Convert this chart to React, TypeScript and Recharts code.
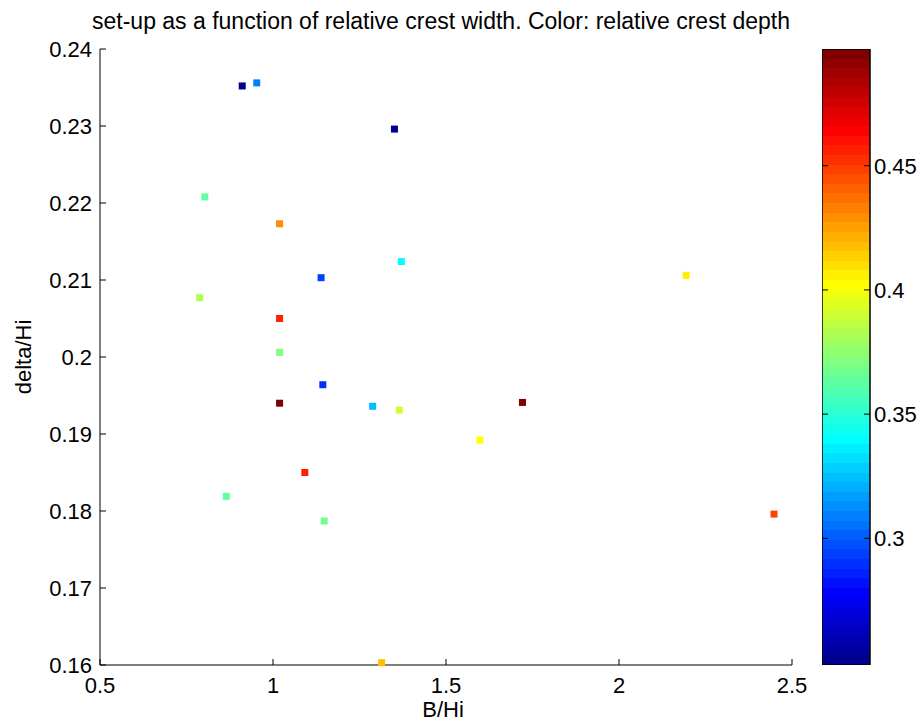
import { Bar, BarChart, Scatter, ScatterChart, XAxis, YAxis } from 'recharts'

// relative crest width B/Hi
const bOverHi = [
    0.911, 0.953, 1.351, 0.803, 1.019, 1.371, 1.139, 2.194, 0.788, 1.019, 1.019,
    1.144, 1.019, 1.288, 1.365, 1.598, 1.721, 1.092, 0.865, 1.148, 2.448, 1.314,
]
// set-up delta/Hi
const deltaOverHi = [
    0.2352, 0.2356, 0.2296, 0.2208, 0.2173, 0.2124, 0.2103, 0.2106, 0.2077, 0.205, 0.2006,
    0.1964, 0.194, 0.1936, 0.1931, 0.1892, 0.1941, 0.185, 0.1819, 0.1787, 0.1796, 0.1603,
]
// relative crest depth (colour)
const crestDepth = [
    0.252, 0.309, 0.249, 0.362, 0.429, 0.34, 0.294, 0.405, 0.383, 0.456, 0.371,
    0.288, 0.497, 0.323, 0.391, 0.401, 0.494, 0.456, 0.363, 0.367, 0.448, 0.417,
]

const xTicks = [0.5, 1, 1.5, 2, 2.5]
const yTicks = [0.16, 0.17, 0.18, 0.19, 0.2, 0.21, 0.22, 0.23, 0.24]
const cbTicks = [0.3, 0.35, 0.4, 0.45]

const FONT = '"Liberation Sans", Arial, sans-serif'
const cMin = Math.min(...crestDepth)
const cMax = Math.max(...crestDepth)

// MATLAB jet(64)
function jet(k: number) {
    const u = (j: number) => (j < 1 || j > 47 ? 0 : j <= 16 ? j / 16 : j <= 31 ? 1 : (48 - j) / 16)
    const c = (v: number) => Math.round(v * 255)
    return `rgb(${c(u(k - 24))},${c(u(k - 8))},${c(u(k + 8))})`
}

function depthColor(v: number) {
    const k = Math.min(64, Math.floor(((v - cMin) / (cMax - cMin)) * 64) + 1)
    return jet(k)
}

const data = bOverHi.map((b, i) => ({ b, delta: deltaOverHi[i], depth: crestDepth[i] }))
const cbData = [{ name: 'depth', range: [cMin, cMax] }]

function YTick({ x, y, payload }: any) {
    return (
        <g>
            <line x1={x} x2={x + 6} y1={y} y2={y} stroke="#000" />
            <text x={x - 8} y={y} dy="0.36em" textAnchor="end" fontSize={22} fontFamily={FONT} fill="#000">
                {String(payload.value)}
            </text>
        </g>
    )
}

function XTick({ x, y, payload }: any) {
    return (
        <g>
            <line x1={x} x2={x} y1={y} y2={y - 6} stroke="#000" />
            <text x={x} y={y + 28} textAnchor="middle" fontSize={22} fontFamily={FONT} fill="#000">
                {String(payload.value)}
            </text>
        </g>
    )
}

function CbTick({ x, y, payload }: any) {
    return (
        <g>
            <line x1={x - 6} x2={x} y1={y} y2={y} stroke="#000" />
            <line x1={x - 48} x2={x - 42} y1={y} y2={y} stroke="#000" />
            <text x={x + 4} y={y} dy="0.36em" textAnchor="start" fontSize={22} fontFamily={FONT} fill="#000">
                {String(payload.value)}
            </text>
        </g>
    )
}

function Marker(props: any) {
    const { cx, cy, payload } = props
    return <rect x={cx - 3.5} y={cy - 3.5} width={7} height={7} fill={depthColor(payload.depth)} />
}

export default function App() {
    const stops = Array.from({ length: 64 }, (_, i) => i)
    return (
        <div style={{ position: 'absolute', left: 0, top: 0, width: 922, height: 724, background: '#fff', fontFamily: FONT }}>
            <div
                style={{
                    position: 'absolute',
                    left: 0,
                    top: 10,
                    width: 882,
                    textAlign: 'center',
                    fontSize: 23,
                    lineHeight: '23px',
                    color: '#000',
                }}
            >
                set-up as a function of relative crest width. Color: relative crest depth
            </div>
            <div style={{ position: 'absolute', left: 0, top: 0 }}>
                <ScatterChart width={922} height={724} margin={{ top: 49, right: 130, left: 0, bottom: 0 }}>
                    <XAxis
                        type="number"
                        dataKey="b"
                        domain={[0.5, 2.5]}
                        ticks={xTicks}
                        height={59}
                        tickSize={0}
                        tickMargin={0}
                        tick={<XTick />}
                        tickLine={false}
                        axisLine={{ stroke: '#000' }}
                        label={{
                            content: ({ viewBox }: any) => (
                                <text x={viewBox.x + viewBox.width / 2 - 3} y={viewBox.y + 52} textAnchor="middle" fontSize={22} fontFamily={FONT} fill="#000">
                                    B/Hi
                                </text>
                            ),
                        }}
                    />
                    <YAxis
                        type="number"
                        dataKey="delta"
                        domain={[0.16, 0.24]}
                        ticks={yTicks}
                        width={100}
                        tickSize={0}
                        tickMargin={0}
                        tick={<YTick />}
                        tickLine={false}
                        axisLine={{ stroke: '#000' }}
                        label={{
                            content: ({ viewBox }: any) => {
                                const cy = viewBox.y + viewBox.height / 2
                                return (
                                    <text x={31} y={cy} transform={`rotate(-90, 31, ${cy})`} textAnchor="middle" fontSize={22} fontFamily={FONT} fill="#000">
                                        delta/Hi
                                    </text>
                                )
                            },
                        }}
                    />
                    <Scatter data={data} shape={<Marker />} isAnimationActive={false} />
                </ScatterChart>
            </div>
            <div style={{ position: 'absolute', left: 822, top: 49 }}>
                <BarChart width={100} height={616} data={cbData} barCategoryGap={0} margin={{ top: 0, right: 0, left: 0, bottom: 0 }}>
                    <defs>
                        <linearGradient id="jet" x1="0" y1="1" x2="0" y2="0">
                            {stops.map((i) => [
                                <stop key={`a${i}`} offset={i / 64} stopColor={jet(i + 1)} />,
                                <stop key={`b${i}`} offset={(i + 1) / 64} stopColor={jet(i + 1)} />,
                            ])}
                        </linearGradient>
                    </defs>
                    <XAxis dataKey="name" hide />
                    <YAxis
                        type="number"
                        orientation="right"
                        domain={[cMin, cMax]}
                        ticks={cbTicks}
                        width={52}
                        tickSize={0}
                        tickMargin={0}
                        tick={<CbTick />}
                        tickLine={false}
                        axisLine={false}
                        allowDataOverflow
                    />
                    <Bar dataKey="range" fill="url(#jet)" stroke="#000" strokeWidth={1.5} isAnimationActive={false} />
                </BarChart>
            </div>
        </div>
    )
}
